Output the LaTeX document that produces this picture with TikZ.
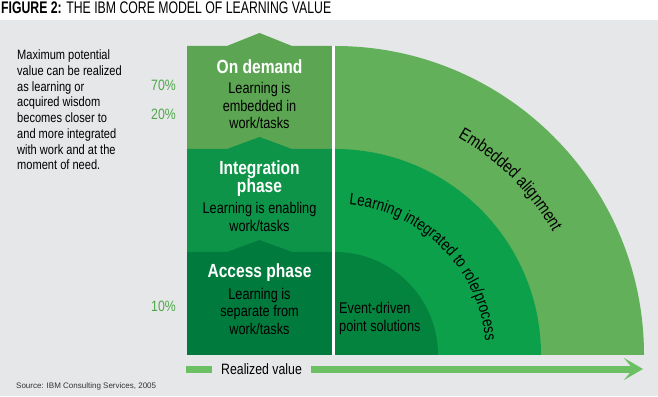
\documentclass[tikz,border=0pt]{standalone}
\usepackage{fontspec}
\setmainfont{Liberation Sans}[FakeStretch=0.82]
\newfontfamily\titlefont{Liberation Sans}[FakeStretch=0.73]
\newfontfamily\plainfont{Liberation Sans}
\usepackage{tikz}
\usetikzlibrary{arrows.meta}
\usetikzlibrary{decorations.text}
\usepackage{xcolor}
\definecolor{bggray}{RGB}{230,231,232}
\definecolor{ringlight}{RGB}{99,176,90}
\definecolor{ringmid}{RGB}{13,160,75}
\definecolor{ringdark}{RGB}{4,131,63}
\definecolor{demandgreen}{RGB}{92,166,83}
\definecolor{integgreen}{RGB}{14,148,72}
\definecolor{accessgreen}{RGB}{0,122,61}
\definecolor{arrowgreen}{RGB}{108,192,100}
\definecolor{pctgreen}{RGB}{77,168,74}

\begin{document}
\begin{tikzpicture}[x=1pt,y=1pt,
    boxhead/.style={text=white, font=\fontsize{19}{18}\selectfont\bfseries, align=center, inner sep=0pt},
    boxtext/.style={text=black, font=\fontsize{15.5}{17.5}\selectfont, align=center, inner sep=0pt},
    pctlabel/.style={text=pctgreen, font=\fontsize{15}{18}\selectfont, anchor=east, inner sep=0pt},
    valuebar/.style={line width=7pt, draw=arrowgreen}]
    % background and title band
    \fill[bggray] (0,0) rectangle (658,376);
    \fill[white] (0,376) rectangle (658,396);
    \node[anchor=base west, inner sep=0pt, font=\titlefont\fontsize{16.8}{18}\selectfont] (title) at (1,382) {\textbf{FIGURE 2:} THE IBM CORE MODEL OF LEARNING VALUE};

    % quarter rings
    \coordinate (ctr) at (335,41);
    \fill[ringlight] (ctr) -- ++(0,309) arc[start angle=90, end angle=0, radius=309pt] -- cycle;
    \fill[ringmid] (ctr) -- ++(0,206) arc[start angle=90, end angle=0, radius=206pt] -- cycle;
    \fill[ringdark] (ctr) -- ++(0,103) arc[start angle=90, end angle=0, radius=103pt] -- cycle;

    % stacked phase boxes
    \fill[demandgreen] (187,247) -- (187,350) -- (227,350) -- (259.5,363) -- (292,350) -- (332,350) -- (332,247) -- cycle;
    \fill[integgreen] (187,144) -- (187,247) -- (227,247) -- (259.5,259) -- (292,247) -- (332,247) -- (332,144) -- cycle;
    \fill[accessgreen] (187,41) -- (187,144) -- (227,144) -- (259.5,156) -- (292,144) -- (332,144) -- (332,41) -- cycle;
    \fill[white] (332,41) rectangle (335,350);

    % curved ring labels
    \path[decorate, decoration={text along path, text align=center,
        text={|\fontsize{17.5}{18}\selectfont|Embedded alignment}}]
        ([shift={(80:250pt)}]ctr) arc[start angle=80, end angle=10, radius=250pt];
    \path[decorate, decoration={text along path, text align=center,
        text={|\fontsize{16.5}{18}\selectfont|Learning integrated to role/process}}]
        ([shift={(90:151pt)}]ctr) arc[start angle=90, end angle=0, radius=151pt];

    % box texts
    \node[boxhead] (demandhead) at (259.5,329) {On demand};
    \node[boxtext] (demandtext) at (259.5,290.5) {Learning is\\embedded in\\work/tasks};
    \node[boxhead] (integhead) at (259.5,217) {Integration\\phase};
    \node[boxtext] (integtext) at (259.5,179) {Learning is enabling\\work/tasks};
    \node[boxhead] (accesshead) at (259.5,123) {Access phase};
    \node[boxtext] (accesstext) at (259.5,85) {Learning is\\separate from\\work/tasks};
    \node[boxtext, align=left, anchor=west] (eventtext) at (339,77.5) {Event-driven\\point solutions};

    % left notes
    \node[anchor=west, align=left, inner sep=0pt, font=\fontsize{13.5}{15.7}\selectfont] (note) at (17,286)
        {Maximum potential\\value can be realized\\as learning or\\acquired wisdom\\becomes closer to\\and more integrated\\with work and at the\\moment of need.};
    \node[pctlabel] (pct70) at (176,311) {70\%};
    \node[pctlabel] (pct20) at (176,282) {20\%};
    \node[pctlabel] (pct10) at (176,90) {10\%};

    % realized value arrow
    \coordinate (barstart) at (186,27);
    \coordinate (arrowtip) at (643,27);
    \node[anchor=west, inner xsep=9pt, inner ysep=0pt, font=\fontsize{15}{18}\selectfont] (realized) at (212,27) {Realized value};
    \draw[valuebar] (barstart) -- (realized.west);
    \draw[valuebar, -{Stealth[length=19pt, width=22pt, inset=9pt]}] (realized.east) -- (arrowtip);

    \node[anchor=west, inner sep=0pt, text=black!80, font=\plainfont\fontsize{8}{10}\selectfont] (source) at (16,10) {Source: IBM Consulting Services, 2005};
\end{tikzpicture}
\end{document}
